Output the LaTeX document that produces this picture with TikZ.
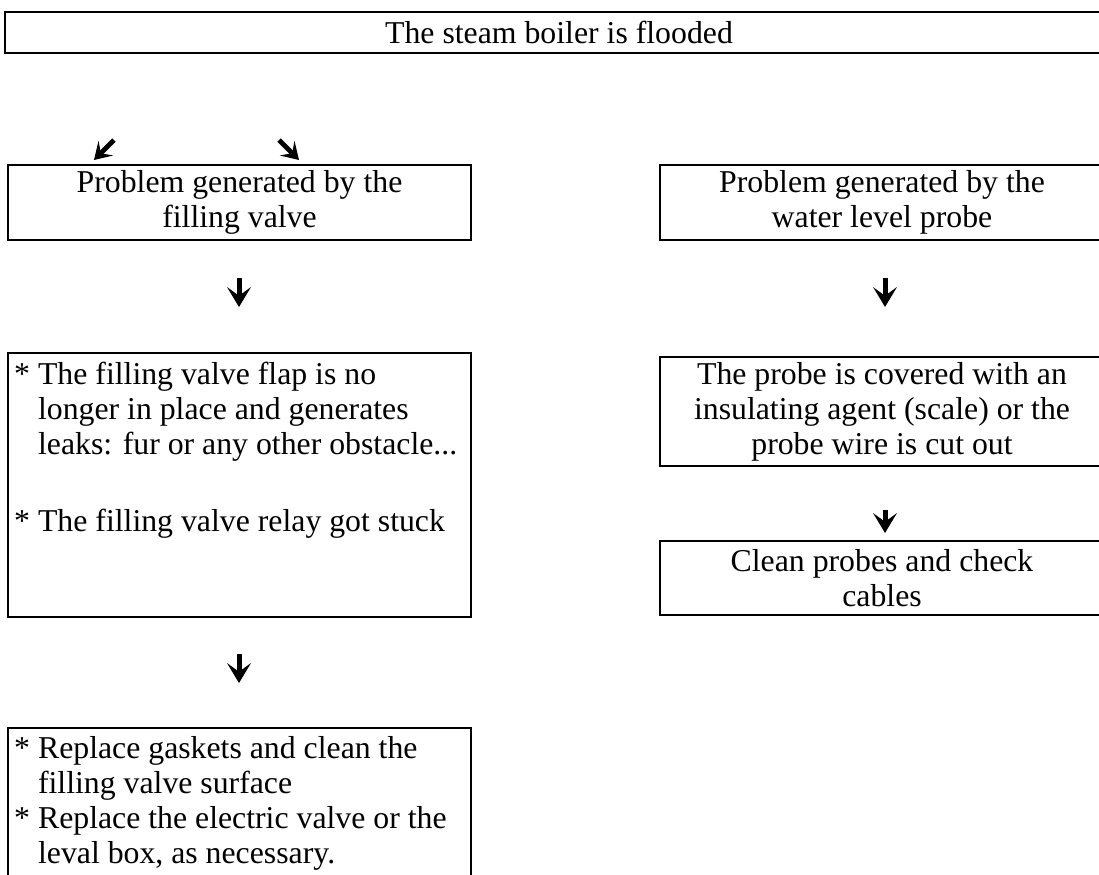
\documentclass[tikz,border=0pt]{standalone}
\usepackage{fontspec}
\setmainfont{Liberation Serif}
\usetikzlibrary{positioning, arrows.meta}

\tikzset{
  flowbox/.style={draw, line width=1.4pt, inner sep=0pt, align=center,
    font=\fontsize{22.6}{24.9}\selectfont},
  flowtext/.style={inner sep=0pt, align=left, anchor=north west,
    font=\fontsize{22.6}{24.9}\selectfont},
  downarrow/.style={line width=0.125cm,
    -{Stealth[length=0.5cm, width=0.6cm, inset=0.22cm, line width=0pt]}},
  slantarrow/.style={line width=0.12cm,
    -{Stealth[length=0.42cm, width=0.52cm, inset=0.18cm, line width=0pt]}},
}

\begin{document}
\begin{tikzpicture}[x=0.025cm, y=-0.025cm]
			\clip (0,0) rectangle (1099,875);
			% boxes
			\node[flowbox, minimum width=27.7cm, minimum height=1.025cm] (flood) at (559,32.5) {The steam boiler is flooded};
			\node[flowbox, minimum width=11.575cm, minimum height=1.875cm] (valve) at (239.5,202.5) {Problem generated by the\\filling valve};
			\node[flowbox, minimum width=11.1cm, minimum height=1.875cm] (probe) at (882,202.5) {Problem generated by the\\water level probe};
			\node[flowbox, minimum width=11.575cm, minimum height=6.6cm] (valvecause) at (239.5,485) {};
			\node[flowtext] (valvecausetxt) at ([xshift=0.175cm, yshift=-0.25cm]valvecause.north west)
			{* The filling valve flap is no\\
			\hphantom{* }longer in place and generates\\
			\hphantom{* }leaks: fur or any other obstacle...\\[1.05cm]
			* The filling valve relay got stuck};
			\node[flowbox, minimum width=11.1cm, minimum height=2.725cm] (probecause) at (882,411.5) {The probe is covered with an\\insulating agent (scale) or the\\probe wire is cut out};
			\node[flowbox, minimum width=11.1cm, minimum height=1.85cm] (probefix) at (882,578) {Clean probes and check\\cables};
			\node[flowbox, minimum width=11.575cm, minimum height=4.8cm] (valvefix) at (239.5,824) {};
			\node[flowtext] (valvefixtxt) at ([xshift=0.175cm, yshift=-0.225cm]valvefix.north west)
			{* Replace gaskets and clean the\\
			\hphantom{* }filling valve surface\\
			* Replace the electric valve or the\\
			\hphantom{* }leval box, as necessary.};
			% arrows
			\coordinate (sl1) at (114,140); \coordinate (sl1tip) at (94,160);
			\coordinate (sl2) at (279,140); \coordinate (sl2tip) at (299,160);
			\draw[slantarrow] (sl1) -- (sl1tip);
			\draw[slantarrow] (sl2) -- (sl2tip);
			\foreach \n/\x/\ya/\yb in {a/239/278/307, b/885/278/307, c/885/510/533, d/239/654/683}
			{
				\coordinate (\n top) at (\x,\ya);
				\coordinate (\n tip) at (\x,\yb);
				\draw[downarrow] (\n top) -- (\n tip);
			}
		\end{tikzpicture}
\end{document}
